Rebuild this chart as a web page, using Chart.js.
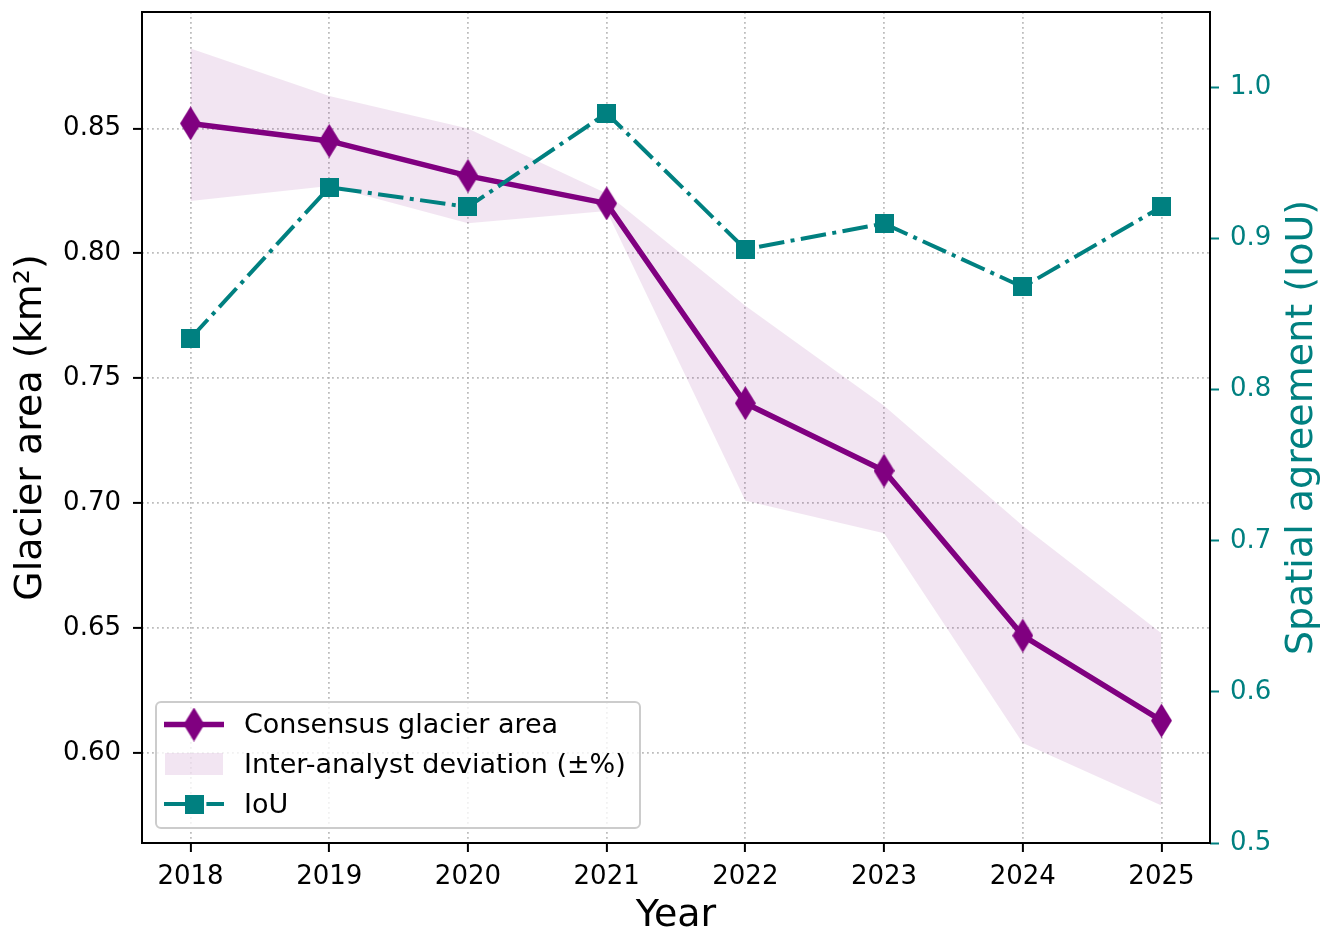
<!DOCTYPE html>
<html lang="en">
<head>
    <meta charset="UTF-8">
    <title>Glacier area and IoU</title>
    <script src="https://cdn.jsdelivr.net/npm/chart.js"></script>
    <style>
        body { margin: 0; background: #fff; }
        canvas { display: block; }
    </style>
</head>
<body>
    <canvas id="glacierChart" width="1330" height="935"></canvas>

    <script>
        // values
        const years = [2018, 2019, 2020, 2021, 2022, 2023, 2024, 2025];
        const consensusArea = [0.852, 0.845, 0.831, 0.820, 0.740, 0.713, 0.647, 0.613];
        const bandUpper = [0.882, 0.863, 0.850, 0.824, 0.779, 0.739, 0.691, 0.648];
        const bandLower = [0.821, 0.827, 0.812, 0.817, 0.701, 0.688, 0.604, 0.579];
        const iou = [0.834, 0.934, 0.921, 0.983, 0.893, 0.910, 0.868, 0.921];

        const areaTicks = [0.60, 0.65, 0.70, 0.75, 0.80, 0.85];
        const iouTicks = [0.5, 0.6, 0.7, 0.8, 0.9, 1.0];

        const PURPLE = '#800080';
        const TEAL = '#008080';
        const BAND = 'rgba(128, 0, 128, 0.1)';
        const GRID = 'rgba(176, 176, 176, 0.85)';
        const FONT = "'DejaVu Sans', sans-serif";
        const iouDash = [25.6, 6.4, 4, 6.4];

        // thin diamond and square markers as small canvases
        function makeDiamond(w, h, color) {
            const c = document.createElement('canvas');
            c.width = w; c.height = h;
            const g = c.getContext('2d');
            g.fillStyle = color;
            g.beginPath();
            g.moveTo(w / 2, 0);
            g.lineTo(w, h / 2);
            g.lineTo(w / 2, h);
            g.lineTo(0, h / 2);
            g.closePath();
            g.fill();
            return c;
        }
        function makeSquare(s, color) {
            const c = document.createElement('canvas');
            c.width = s; c.height = s;
            const g = c.getContext('2d');
            g.fillStyle = color;
            g.fillRect(0, 0, s, s);
            return c;
        }
        const diamond = makeDiamond(21, 34, PURPLE);
        const square = makeSquare(19, TEAL);

        const toPoints = arr => years.map((x, i) => ({ x: x, y: arr[i] }));

        // frame around the plot area (drawn over the data like the spines)
        const framePlugin = {
            id: 'frame',
            afterDatasetsDraw(chart) {
                const { ctx, chartArea: a } = chart;
                ctx.save();
                ctx.strokeStyle = '#000';
                ctx.lineWidth = 2;
                ctx.strokeRect(a.left, a.top, a.right - a.left, a.bottom - a.top);
                ctx.restore();
            }
        };

        // right axis title reads bottom-to-top, so draw it by hand
        const rightTitlePlugin = {
            id: 'rightTitle',
            afterDraw(chart) {
                const { ctx, chartArea: a } = chart;
                ctx.save();
                ctx.translate(1302, (a.top + a.bottom) / 2);
                ctx.rotate(-Math.PI / 2);
                ctx.font = '38px ' + FONT;
                ctx.fillStyle = TEAL;
                ctx.textAlign = 'center';
                ctx.textBaseline = 'middle';
                ctx.fillText('Spatial agreement (IoU)', 0, 0);
                ctx.restore();
            }
        };

        // legend box in the lower-left corner of the plot
        const legendPlugin = {
            id: 'boxLegend',
            afterDraw(chart) {
                const ctx = chart.ctx;
                const x0 = 156, y0 = 702, w = 484, h = 126;
                ctx.save();
                ctx.beginPath();
                ctx.roundRect(x0, y0, w, h, 5);
                ctx.fillStyle = 'rgba(255,255,255,0.8)';
                ctx.fill();
                ctx.strokeStyle = '#cccccc';
                ctx.lineWidth = 2;
                ctx.stroke();

                const lx1 = 164, lx2 = 224, lmid = 194;
                // consensus line
                ctx.strokeStyle = PURPLE;
                ctx.lineWidth = 5.5;
                ctx.beginPath();
                ctx.moveTo(lx1, 724.5);
                ctx.lineTo(lx2, 724.5);
                ctx.stroke();
                ctx.drawImage(diamond, lmid - diamond.width / 2, 724.5 - diamond.height / 2);
                // band patch
                ctx.fillStyle = BAND;
                ctx.fillRect(165, 753, 58, 22);
                // IoU line
                ctx.strokeStyle = TEAL;
                ctx.lineWidth = 4;
                ctx.setLineDash(iouDash);
                ctx.beginPath();
                ctx.moveTo(lx1, 804);
                ctx.lineTo(lx2, 804);
                ctx.stroke();
                ctx.setLineDash([]);
                ctx.drawImage(square, lmid - square.width / 2, 804 - square.height / 2);

                ctx.font = '27px ' + FONT;
                ctx.fillStyle = '#000';
                ctx.textAlign = 'left';
                ctx.textBaseline = 'middle';
                ctx.fillText('Consensus glacier area', 244, 725.5);
                ctx.fillText('Inter-analyst deviation (\u00b1%)', 244, 765.5);
                ctx.fillText('IoU', 244, 805.5);
                ctx.restore();
            }
        };

        // fixed axis box sizes so the plot area matches the reference
        function fitVertical(width) {
            return s => {
                s.width = width;
                s.paddingTop = 0;
                s.paddingBottom = 0;
            };
        }

        const ctx = document.getElementById('glacierChart').getContext('2d');
        new Chart(ctx, {
            type: 'line',
            data: {
                datasets: [
                    {
                        label: 'IoU',
                        data: toPoints(iou),
                        yAxisID: 'y1',
                        borderColor: TEAL,
                        borderWidth: 4,
                        borderDash: iouDash,
                        pointStyle: square,
                        pointRadius: 10,
                        pointBorderWidth: 0,
                        tension: 0,
                        fill: false
                    },
                    {
                        label: 'Consensus glacier area',
                        data: toPoints(consensusArea),
                        yAxisID: 'y',
                        borderColor: PURPLE,
                        borderWidth: 5.5,
                        pointStyle: diamond,
                        pointRadius: 10,
                        pointBorderWidth: 0,
                        tension: 0,
                        fill: false
                    },
                    {
                        label: 'Inter-analyst deviation (\u00b1%)',
                        data: toPoints(bandUpper),
                        yAxisID: 'y',
                        borderWidth: 0,
                        borderColor: 'rgba(0,0,0,0)',
                        backgroundColor: BAND,
                        pointRadius: 0,
                        tension: 0,
                        fill: '+1'
                    },
                    {
                        label: 'band lower',
                        data: toPoints(bandLower),
                        yAxisID: 'y',
                        borderWidth: 0,
                        borderColor: 'rgba(0,0,0,0)',
                        pointRadius: 0,
                        tension: 0,
                        fill: false
                    }
                ]
            },
            options: {
                responsive: false,
                animation: false,
                devicePixelRatio: 1,
                layout: { autoPadding: false, padding: { top: 12, left: 0, right: 0, bottom: 0 } },
                plugins: {
                    legend: { display: false },
                    tooltip: { enabled: false }
                },
                scales: {
                    x: {
                        type: 'linear',
                        position: 'bottom',
                        min: 2017.65,
                        max: 2025.35,
                        afterBuildTicks: s => { s.ticks = years.map(v => ({ value: v })); },
                        afterFit: s => { s.height = 92; },
                        ticks: {
                            font: { family: FONT, size: 26 },
                            color: '#000',
                            padding: 9.5,
                            maxRotation: 0,
                            autoSkip: false,
                            callback: v => String(v)
                        },
                        grid: {
                            color: GRID,
                            lineWidth: 1.8,
                            tickColor: '#000',
                            tickLength: 9,
                            tickWidth: 2
                        },
                        border: { display: false, dash: [1.8, 3.2] },
                        title: {
                            display: true,
                            text: 'Year',
                            color: '#000',
                            font: { family: FONT, size: 38, lineHeight: 1 },
                            padding: { top: 0, bottom: 0 }
                        }
                    },
                    y: {
                        type: 'linear',
                        position: 'left',
                        min: 0.564,
                        max: 0.8966,
                        afterBuildTicks: s => { s.ticks = areaTicks.map(v => ({ value: v })); },
                        afterFit: fitVertical(142),
                        ticks: {
                            font: { family: FONT, size: 26 },
                            color: '#000',
                            padding: 12,
                            callback: v => v.toFixed(2)
                        },
                        grid: {
                            color: GRID,
                            lineWidth: 1.8,
                            tickColor: '#000',
                            tickLength: 9,
                            tickWidth: 2
                        },
                        border: { display: false, dash: [1.8, 3.2] },
                        title: {
                            display: true,
                            text: 'Glacier area (km\u00b2)',
                            color: '#000',
                            font: { family: FONT, size: 38, lineHeight: 1 },
                            padding: { top: 12, bottom: 0 }
                        }
                    },
                    y1: {
                        type: 'linear',
                        position: 'right',
                        min: 0.5,
                        max: 1.05,
                        afterBuildTicks: s => { s.ticks = iouTicks.map(v => ({ value: v })); },
                        afterFit: fitVertical(120),
                        ticks: {
                            font: { family: FONT, size: 26 },
                            color: TEAL,
                            padding: 11,
                            callback: v => v.toFixed(1)
                        },
                        grid: {
                            drawOnChartArea: false,
                            color: TEAL,
                            tickColor: TEAL,
                            tickLength: 9,
                            tickWidth: 2
                        },
                        border: { display: false }
                    }
                }
            },
            plugins: [framePlugin, rightTitlePlugin, legendPlugin]
        });
    </script>
</body>
</html>
